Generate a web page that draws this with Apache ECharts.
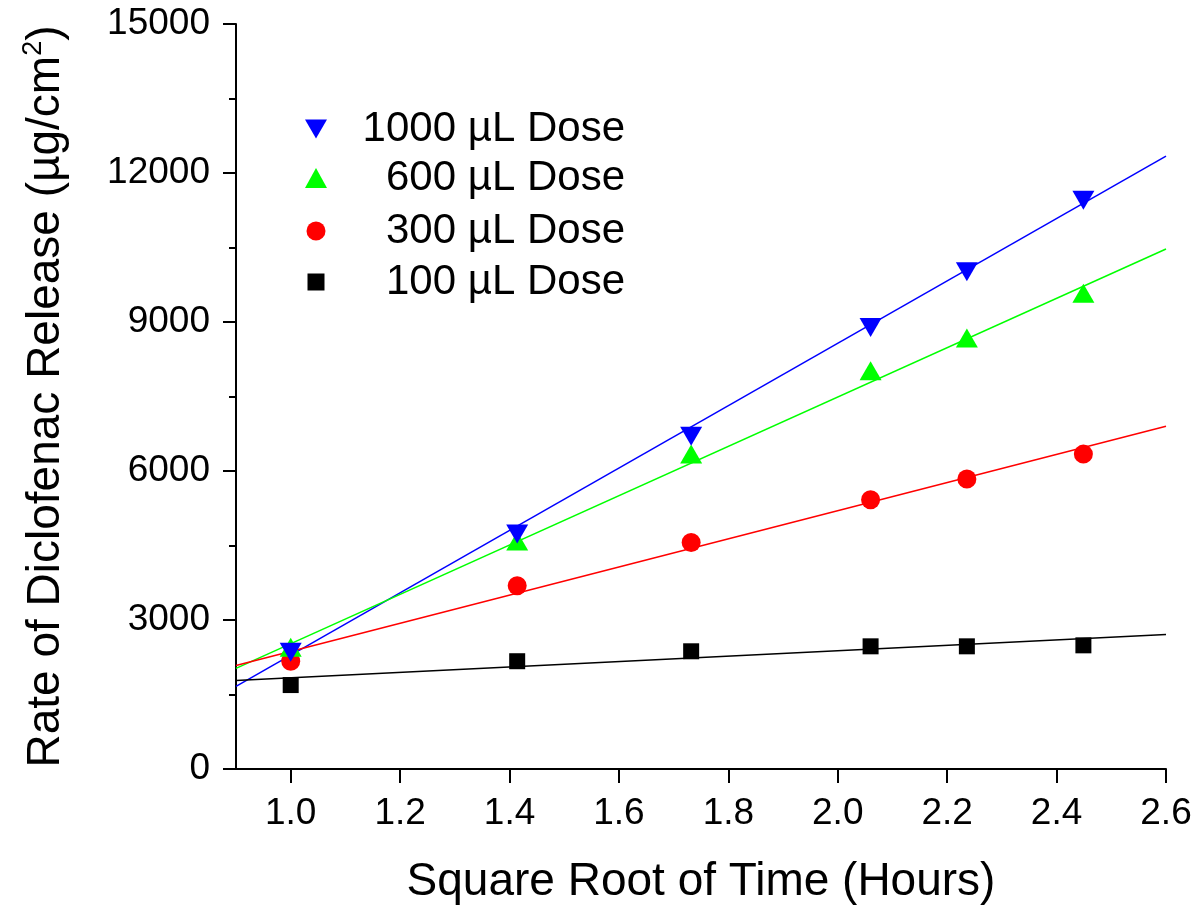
<!DOCTYPE html>
<html>
<head>
    <meta charset="utf-8">
    <script src="https://cdn.jsdelivr.net/npm/echarts@6/dist/echarts.min.js"></script>
    <style>
        body { margin: 0; background: #fff; }
        #main { width: 1199px; height: 910px; }
    </style>
</head>

<body>
    <div id="main"></div>

    <script type="text/javascript">
        // square root of time (hours)
        var sqrtTime = [1.0, 1.414, 1.732, 2.06, 2.236, 2.449];

        var dose1000 = [2350, 4730, 6700, 8890, 10010, 11450];
        var dose600 = [2450, 4590, 6340, 8020, 8680, 9580];
        var dose300 = [2170, 3690, 4560, 5420, 5840, 6340];
        var dose100 = [1690, 2170, 2370, 2470, 2470, 2490];

        // fitted lines, read at both ends of the x axis
        var fitX = [0.9, 2.6];
        var fit1000 = [1664, 12340];
        var fit600 = [2025, 10470];
        var fit300 = [2085, 6900];
        var fit100 = [1784, 2707];

        var xTicks = [1.0, 1.2, 1.4, 1.6, 1.8, 2.0, 2.2, 2.4, 2.6];
        var doseNames = ['1000 \u00b5L Dose', '600 \u00b5L Dose', '300 \u00b5L Dose', '100 \u00b5L Dose'];

        var font = 'Arial, "Liberation Sans", sans-serif';
        var downTri = 'path://M0,0L22,0L11,19Z';

        function pairs(xs, ys) {
            return ys.map(function (y, i) { return [xs[i], y]; });
        }

        var myChart = echarts.init(document.getElementById('main'));

        var legendLine = 40;
        function legendRow(name, icon, w, h, cy) {
            return {
                data: [name],
                orient: 'vertical',
                left: 316 - w / 2,
                top: cy - legendLine / 2,
                padding: 0,
                icon: icon,
                itemWidth: w,
                itemHeight: h,
                selectedMode: false,
                formatter: function (n) { return '{t|' + n + '}'; },
                textStyle: {
                    rich: {
                        t: {
                            width: 625 - (316 + w / 2 + 5),
                            align: 'right',
                            fontSize: 42,
                            lineHeight: legendLine,
                            fontFamily: font,
                            color: '#000'
                        }
                    }
                }
            };
        }

        myChart.setOption({
            animation: false,
            backgroundColor: '#fff',
            legend: [
                legendRow(doseNames[0], downTri, 22, 20, 128),
                legendRow(doseNames[1], 'triangle', 22, 20, 177),
                legendRow(doseNames[2], 'circle', 19, 19, 230),
                legendRow(doseNames[3], 'rect', 17, 17, 281)
            ],
            grid: {
                left: 236,
                right: 33,
                top: 24,
                bottom: 137
            },
            xAxis: {
                type: 'value',
                min: 0.9,
                max: 2.6,
                name: 'Square Root of Time (Hours)',
                nameLocation: 'middle',
                nameGap: 90,
                nameTextStyle: { fontSize: 46, fontFamily: font, color: '#000' },
                splitLine: { show: false },
                axisLine: { lineStyle: { color: '#000', width: 2 } },
                axisTick: {
                    customValues: xTicks,
                    length: 14,
                    lineStyle: { color: '#000', width: 2 }
                },
                axisLabel: {
                    customValues: xTicks,
                    fontSize: 37,
                    fontFamily: font,
                    color: '#000',
                    margin: 26,
                    formatter: function (v) { return v.toFixed(1); }
                }
            },
            yAxis: {
                type: 'value',
                min: 0,
                max: 15000,
                interval: 3000,
                name: 'Rate of Diclofenac Release (\u00b5g/cm{sup|2})',
                nameLocation: 'middle',
                nameGap: 164,
                nameTextStyle: {
                    fontSize: 46,
                    fontFamily: font,
                    color: '#000',
                    rich: {
                        sup: { fontSize: 27, fontFamily: font, color: '#000', verticalAlign: 'top', lineHeight: 52 }
                    }
                },
                splitLine: { show: false },
                axisLine: { show: true, lineStyle: { color: '#000', width: 2 } },
                axisTick: { length: 13, lineStyle: { color: '#000', width: 2 } },
                minorTick: { show: true, splitNumber: 2, length: 7, lineStyle: { color: '#000', width: 2 } },
                axisLabel: {
                    fontSize: 37,
                    fontFamily: font,
                    color: '#000',
                    margin: 26,
                    formatter: function (v) { return String(v); }
                }
            },
            series: [
                { name: 'fit1000', type: 'line', data: pairs(fitX, fit1000), showSymbol: false, lineStyle: { color: '#0000ff', width: 1.5 }, z: 1 },
                { name: 'fit600', type: 'line', data: pairs(fitX, fit600), showSymbol: false, lineStyle: { color: '#00ff00', width: 1.5 }, z: 1 },
                { name: 'fit300', type: 'line', data: pairs(fitX, fit300), showSymbol: false, lineStyle: { color: '#ff0000', width: 1.5 }, z: 1 },
                { name: 'fit100', type: 'line', data: pairs(fitX, fit100), showSymbol: false, lineStyle: { color: '#000000', width: 1.5 }, z: 1 },
                { name: doseNames[3], type: 'scatter', data: pairs(sqrtTime, dose100), symbol: 'rect', symbolSize: 16, itemStyle: { color: '#000000', opacity: 1 }, z: 2 },
                { name: doseNames[2], type: 'scatter', data: pairs(sqrtTime, dose300), symbol: 'circle', symbolSize: 19, itemStyle: { color: '#ff0000', opacity: 1 }, z: 2 },
                { name: doseNames[1], type: 'scatter', data: pairs(sqrtTime, dose600), symbol: 'triangle', symbolSize: [22, 19], itemStyle: { color: '#00ff00', opacity: 1 }, z: 2 },
                { name: doseNames[0], type: 'scatter', data: pairs(sqrtTime, dose1000), symbol: downTri, symbolSize: [22, 19], itemStyle: { color: '#0000ff', opacity: 1 }, z: 2 }
            ]
        });
    </script>
</body>

</html>
